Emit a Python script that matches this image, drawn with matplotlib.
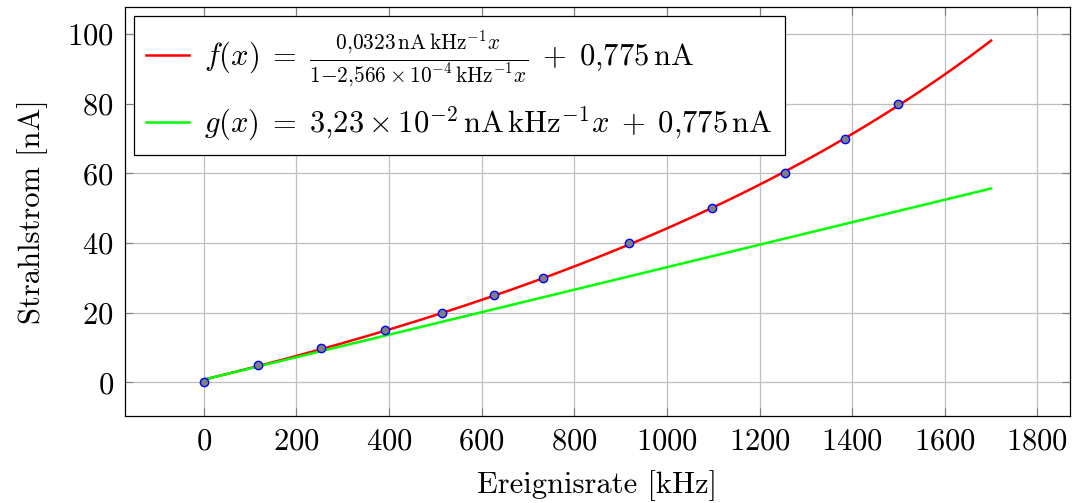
import numpy as np
import matplotlib
matplotlib.use('Agg')
from matplotlib import pyplot as plt

# Messpunkte
rate = [0, 117, 253, 392, 515, 627, 733, 918, 1098, 1255, 1384, 1498]
strom = [0, 5, 10, 15, 20, 25, 30, 40, 50, 60, 70, 80]

# Fitparameter
a = 0.0323
b = 2.566e-4
c = 0.775

xticks = [0, 200, 400, 600, 800, 1000, 1200, 1400, 1600, 1800]
yticks = [0, 20, 40, 60, 80, 100]

plt.rcParams['font.family'] = 'serif'
plt.rcParams['font.serif'] = ['cmr10']
plt.rcParams['mathtext.fontset'] = 'cm'
plt.rcParams['axes.formatter.use_mathtext'] = True
plt.rcParams['font.size'] = 22

fig = plt.figure(figsize=(10.72, 5.03), dpi=100)
ax = fig.add_axes([0.1166, 0.172, 0.8814, 0.814])

x = np.linspace(0, 1700, 300)
f = a * x / (1 - b * x) + c
g = a * x + c

lab_f = (r'$f(x)\;=\;\frac{0{,}0323\,\mathrm{nA}\,\mathrm{kHz}^{-1}x}'
         r'{1{-}2{,}566\times10^{-4}\,\mathrm{kHz}^{-1}x}\;+\;0{,}775\,\mathrm{nA}$')
lab_g = (r'$g(x)\;=\;3{,}23\times10^{-2}\,\mathrm{nA}\,\mathrm{kHz}^{-1}x'
         r'\;+\;0{,}775\,\mathrm{nA}$')

ax.plot(x, f, color='red', lw=1.8, label=lab_f, zorder=3)
ax.plot(x, g, color='#00ff00', lw=1.8, label=lab_g, zorder=3)
ax.plot(rate, strom, 'o', ms=6, mfc='gray', mec='blue', mew=1.0, zorder=4)

ax.set_xlim(-170, 1870)
ax.set_ylim(-9.8, 107.8)
ax.set_xticks(xticks)
ax.set_yticks(yticks)
ax.grid(True, color='#bfbfbf', lw=0.9)
ax.set_axisbelow(True)
ax.tick_params(direction='in', top=True, right=True, length=6, color='#7f7f7f', pad=8)
for s in ax.spines.values():
    s.set_linewidth(0.9)

ax.set_xlabel('Ereignisrate [kHz]', labelpad=11)
ax.set_ylabel('Strahlstrom [nA]', labelpad=14)

leg = ax.legend(loc='upper left', fancybox=False, framealpha=1, edgecolor='black',
                fontsize=22, handlelength=1.4, handletextpad=0.5,
                borderaxespad=0.3, labelspacing=0.5, borderpad=0.4)
leg.get_frame().set_linewidth(0.9)

fig.savefig('out.png', dpi=100)
